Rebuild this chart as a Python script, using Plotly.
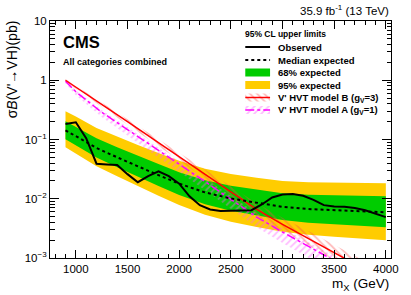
import plotly.graph_objects as go

# ---------------- data ----------------
mass_obs = [900, 1000, 1100, 1200, 1300, 1400, 1500, 1600, 1700, 1800, 1900, 2000,
            2100, 2200, 2300, 2400, 2500, 2600, 2700, 2800, 2900, 3000, 3100, 3200,
            3300, 3400, 3500, 3600, 3700, 3800, 3900, 4000]
observed = [0.183, 0.195, 0.105, 0.039, 0.038, 0.037, 0.026, 0.019, 0.024, 0.029, 0.024, 0.018,
            0.011, 0.0078, 0.0066, 0.0062, 0.0063, 0.0063, 0.0064, 0.0080, 0.0105, 0.0118, 0.0120, 0.0112,
            0.0096, 0.0078, 0.0074, 0.0073, 0.0070, 0.0064, 0.0056, 0.0049]

mass_exp = [900, 1000, 1200, 1400, 1600, 1800, 2000, 2250, 2500, 2750, 3000, 3250, 3500, 3750, 4000]
expected = [0.143, 0.115, 0.072, 0.050, 0.035, 0.025, 0.018, 0.0128, 0.0101, 0.0085, 0.0073, 0.0067, 0.0064, 0.0061, 0.0059]
exp68_up = [0.203, 0.164, 0.105, 0.074, 0.0529, 0.0385, 0.0281, 0.0205, 0.0165, 0.0142, 0.0124, 0.0117, 0.0114, 0.0111, 0.0110]
exp68_dn = [0.1007, 0.0804, 0.0497, 0.0340, 0.0233, 0.0164, 0.0116, 0.0081, 0.00627, 0.00518, 0.00437, 0.00394, 0.00370, 0.00347, 0.00330]
exp95_up = [0.299, 0.244, 0.157, 0.112, 0.0805, 0.059, 0.0436, 0.032, 0.0261, 0.0226, 0.0200, 0.0190, 0.0187, 0.0184, 0.0183]
exp95_dn = [0.0737, 0.0584, 0.0355, 0.0239, 0.0162, 0.01126, 0.00786, 0.00538, 0.00409, 0.00333, 0.00278, 0.00246, 0.00228, 0.00211, 0.00199]

mass_th = [900, 1000, 1250, 1500, 1750, 2000, 2250, 2500, 2750, 3000, 3250, 3500, 3750, 4000]
hvt_B = [1.00, 0.76, 0.39, 0.20, 0.101, 0.052, 0.0263, 0.0132, 0.0066, 0.0037, 0.00214, 0.00123, 0.0007, 0.00041]
hvt_B_up = [1.05, 0.81, 0.43, 0.225, 0.116, 0.061, 0.0316, 0.0163, 0.0084, 0.0048, 0.00285, 0.00166, 0.00096, 0.00057]
hvt_B_dn = [0.95, 0.71, 0.355, 0.178, 0.088, 0.0445, 0.0220, 0.0107, 0.0052, 0.0029, 0.00162, 0.00092, 0.00051, 0.00030]
hvt_A = [0.96, 0.64, 0.289, 0.148, 0.0747, 0.0385, 0.0195, 0.0098, 0.0049, 0.00274, 0.00158, 0.00091, 0.00052, 0.00030]
hvt_A_up = [1.00, 0.68, 0.315, 0.163, 0.083, 0.043, 0.0220, 0.0112, 0.0057, 0.0032, 0.00186, 0.00108, 0.00062, 0.00036]
hvt_A_dn = [0.88, 0.56, 0.24, 0.118, 0.057, 0.0285, 0.0140, 0.0068, 0.0033, 0.00180, 0.00101, 0.00056, 0.00032, 0.00018]

x_ticks = [1000, 1500, 2000, 2500, 3000, 3500, 4000]
y_ticks = [0.001, 0.01, 0.1, 1, 10]
y_ticktext = ["10<sup>\u22123</sup>", "10<sup>\u22122</sup>", "10<sup>\u22121</sup>", "1", "10"]

legend_labels = ["Observed", "Median expected", "68% expected", "95% expected",
                 "V' HVT model B (g<sub>V</sub>=3)", "V' HVT model A (g<sub>V</sub>=1)"]

# ---------------- style ----------------
FONT = "Liberation Sans, Arial, Helvetica, sans-serif"
GREEN = "#00cc00"
ORANGE = "#ffcc00"
RED = "#ff0000"
MAGENTA = "#ff00ff"
RED_HATCH = "rgba(255,70,70,0.75)"
MAG_HATCH = "rgba(255,90,255,0.8)"

W, H = 411, 295
L, R, T, B = 50, 17, 21, 37
PW, PH = W - L - R, H - T - B


def pu(px):
    return (px - L) / PW


def pv(py):
    return (H - B - py) / PH


def band(xs, up, dn):
    return xs + xs[::-1], up + dn[::-1]


fig = go.Figure()

bx, by = band(mass_exp, exp95_up, exp95_dn)
fig.add_trace(go.Scatter(x=bx, y=by, fill="toself", fillcolor=ORANGE, line=dict(width=0),
                         mode="lines", hoverinfo="skip"))
bx, by = band(mass_exp, exp68_up, exp68_dn)
fig.add_trace(go.Scatter(x=bx, y=by, fill="toself", fillcolor=GREEN, line=dict(width=0),
                         mode="lines", hoverinfo="skip"))

bx, by = band(mass_th, hvt_A_up, hvt_A_dn)
fig.add_trace(go.Scatter(x=bx, y=by, fill="toself", fillcolor="rgba(0,0,0,0)",
                         fillpattern=dict(shape="/", fgcolor=MAG_HATCH, bgcolor="rgba(0,0,0,0)",
                                          size=5, solidity=0.35),
                         line=dict(width=0), mode="lines", hoverinfo="skip"))
bx, by = band(mass_th, hvt_B_up, hvt_B_dn)
fig.add_trace(go.Scatter(x=bx, y=by, fill="toself", fillcolor="rgba(0,0,0,0)",
                         fillpattern=dict(shape="\\", fgcolor=RED_HATCH, bgcolor="rgba(0,0,0,0)",
                                          size=5, solidity=0.35),
                         line=dict(width=0), mode="lines", hoverinfo="skip"))

fig.add_trace(go.Scatter(x=mass_th, y=hvt_A, mode="lines",
                         line=dict(color=MAGENTA, width=1.5, dash="dashdot")))
fig.add_trace(go.Scatter(x=mass_th, y=hvt_B, mode="lines",
                         line=dict(color=RED, width=1.5)))
fig.add_trace(go.Scatter(x=mass_exp, y=expected, mode="lines",
                         line=dict(color="black", width=2, dash="dot")))
fig.add_trace(go.Scatter(x=mass_obs, y=observed, mode="lines",
                         line=dict(color="black", width=2)))

# ---------------- legend (drawn on an overlay axis in paper units) ----------------
u0, u1 = pu(247), pu(272)
rows = [47, 60, 72.5, 85, 97.5, 110]
hb = 4.0  # half box height in px


def box(py):
    v0, v1 = pv(py - hb), pv(py + hb)
    return [u0, u1, u1, u0, u0], [v0, v0, v1, v1, v0]


fig.add_trace(go.Scatter(x=[u0, u1], y=[pv(rows[0])] * 2, xaxis="x2", yaxis="y2", mode="lines",
                         line=dict(color="black", width=2)))
fig.add_trace(go.Scatter(x=[u0, u1], y=[pv(rows[1])] * 2, xaxis="x2", yaxis="y2", mode="lines",
                         line=dict(color="black", width=2, dash="dot")))
xs, ys = box(rows[2])
fig.add_trace(go.Scatter(x=xs, y=ys, xaxis="x2", yaxis="y2", mode="lines", fill="toself",
                         fillcolor=GREEN, line=dict(width=0)))
xs, ys = box(rows[3])
fig.add_trace(go.Scatter(x=xs, y=ys, xaxis="x2", yaxis="y2", mode="lines", fill="toself",
                         fillcolor=ORANGE, line=dict(width=0)))
xs, ys = box(rows[4])
fig.add_trace(go.Scatter(x=xs, y=ys, xaxis="x2", yaxis="y2", mode="lines", fill="toself",
                         fillcolor="rgba(0,0,0,0)",
                         fillpattern=dict(shape="\\", fgcolor=RED_HATCH, bgcolor="rgba(0,0,0,0)",
                                          size=5, solidity=0.35),
                         line=dict(width=0)))
fig.add_trace(go.Scatter(x=[u0, u1], y=[pv(rows[4])] * 2, xaxis="x2", yaxis="y2", mode="lines",
                         line=dict(color=RED, width=1.5)))
xs, ys = box(rows[5])
fig.add_trace(go.Scatter(x=xs, y=ys, xaxis="x2", yaxis="y2", mode="lines", fill="toself",
                         fillcolor="rgba(0,0,0,0)",
                         fillpattern=dict(shape="/", fgcolor=MAG_HATCH, bgcolor="rgba(0,0,0,0)",
                                          size=5, solidity=0.35),
                         line=dict(width=0)))
fig.add_trace(go.Scatter(x=[u0, u1], y=[pv(rows[5])] * 2, xaxis="x2", yaxis="y2", mode="lines",
                         line=dict(color=MAGENTA, width=1.5, dash="dashdot")))

annotations = []
for lab, py in zip(legend_labels, rows):
    annotations.append(dict(text="<b>" + lab + "</b>", x=pu(278), y=pv(py), xref="paper", yref="paper",
                            xanchor="left", yanchor="middle", showarrow=False,
                            font=dict(size=9.5, color="black", family=FONT)))
annotations += [
    dict(text="<b>95% CL upper limits</b>", x=pu(245), y=pv(34.5), xref="paper", yref="paper",
         xanchor="left", yanchor="middle", showarrow=False, font=dict(size=8.5, color="black", family=FONT)),
    dict(text="<b>CMS</b>", x=pu(61), y=pv(42), xref="paper", yref="paper",
         xanchor="left", yanchor="middle", showarrow=False, font=dict(size=16.5, color="black", family=FONT)),
    dict(text="<b>All categories combined</b>", x=pu(61), y=pv(62), xref="paper", yref="paper",
         xanchor="left", yanchor="middle", showarrow=False, font=dict(size=9, color="black", family=FONT)),
    dict(text="35.9 fb<sup>-1</sup> (13 TeV)", x=1.0, y=pv(10), xref="paper", yref="paper",
         xanchor="right", yanchor="middle", showarrow=False, font=dict(size=11.5, color="black", family=FONT)),
    dict(text="m<sub>X</sub> (GeV)", x=1.0, y=pv(284), xref="paper", yref="paper",
         xanchor="right", yanchor="middle", showarrow=False, font=dict(size=13.5, color="black", family=FONT)),
    dict(text="\u03c3<i>B</i>(V'\u2192VH)(pb)", x=pu(12), y=pv(18), xref="paper", yref="paper",
         xanchor="center", yanchor="top", textangle=-90, showarrow=False,
         font=dict(size=14, color="black", family=FONT)),
]

minor_y = [k * 10.0 ** e for e in range(-3, 1) for k in range(2, 10)]

fig.update_layout(
    width=W, height=H,
    margin=dict(l=L, r=R, t=T, b=B, pad=0),
    paper_bgcolor="white", plot_bgcolor="white",
    showlegend=False,
    font=dict(family=FONT, color="black"),
    annotations=annotations,
    xaxis=dict(range=[750, 4050], tickmode="array", tickvals=x_ticks, ticks="inside", ticklen=8,
               tickwidth=1, tickcolor="black", showline=True, linecolor="black", linewidth=1,
               mirror="ticks", showgrid=False, zeroline=False,
               tickfont=dict(size=11.5, family=FONT, color="black"),
               minor=dict(dtick=100, tick0=0, ticks="inside", ticklen=4, tickcolor="black", showgrid=False)),
    yaxis=dict(type="log", range=[-3, 1], tickmode="array", tickvals=y_ticks, ticktext=y_ticktext,
               ticks="inside", ticklen=9, tickwidth=1, tickcolor="black", showline=True,
               linecolor="black", linewidth=1, mirror="ticks", showgrid=False, zeroline=False,
               tickfont=dict(size=11.5, family=FONT, color="black"),
               minor=dict(tickmode="array", tickvals=minor_y, ticks="inside", ticklen=4.5,
                          tickcolor="black", showgrid=False)),
    xaxis2=dict(overlaying="x", range=[0, 1], visible=False, anchor="y2"),
    yaxis2=dict(overlaying="y", range=[0, 1], visible=False, anchor="x2"),
)

fig.write_html("out.html",
               config={"displayModeBar": False, "staticPlot": True},
               post_script="document.body.style.margin='0';document.body.style.overflow='hidden';")
